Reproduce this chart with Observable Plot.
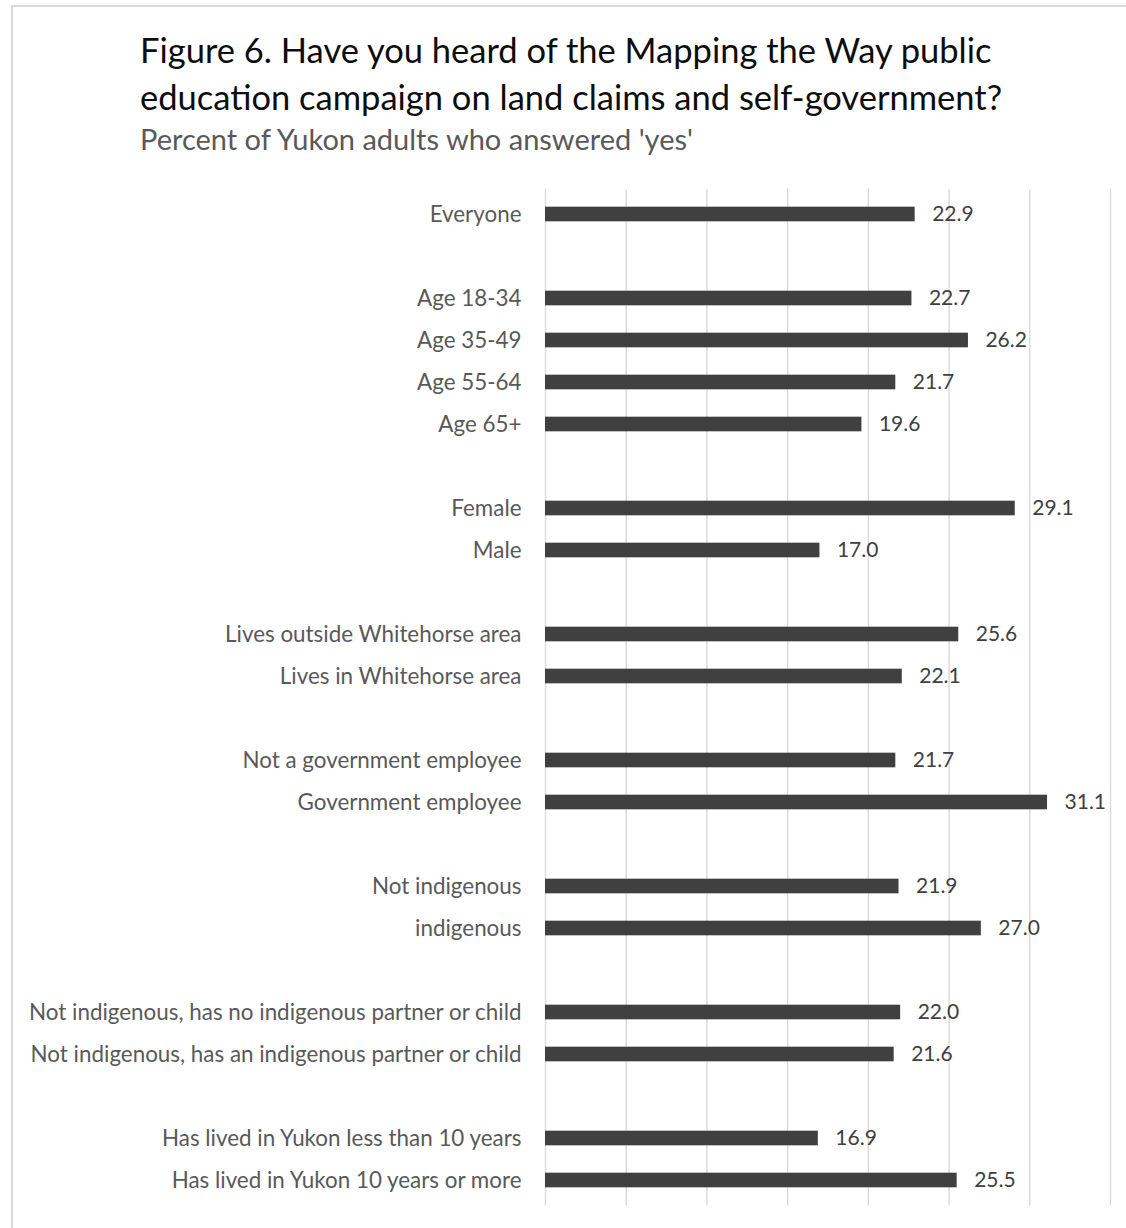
<!DOCTYPE html>
<html>
<head>
<meta charset="utf-8">
<script src="https://cdn.jsdelivr.net/npm/d3@7"></script>
<script src="https://cdn.jsdelivr.net/npm/@observablehq/plot@0.6"></script>
<style>
  html, body { margin: 0; padding: 0; background: #fff; overflow: hidden; }
  #wrap { position: relative; width: 1126px; height: 1228px; font-family: Lato, "Open Sans", sans-serif; }
  #frame { position: absolute; left: 11px; top: 5px; width: 1300px; height: 1400px; border-top: 2px solid #d9d9d9; border-left: 2px solid #d9d9d9; box-sizing: border-box; }
  .t { position: absolute; left: 140px; white-space: nowrap; }
  #title1, #title2 { font-size: 34.5px; color: #0d0d0d; line-height: 42px; }
  #sub { font-size: 29px; color: #595959; line-height: 34px; }
  #chart { position: absolute; left: 0; top: 170px; line-height: 0; }
</style>
</head>
<body>
<div id="wrap">
  <div id="frame"></div>
  <div class="t" id="title1" style="top:29px">Figure 6. Have you heard of the Mapping the Way public</div>
  <div class="t" id="title2" style="top:76px">education campaign on land claims and self-government?</div>
  <div class="t" id="sub" style="top:122px">Percent of Yukon adults who answered 'yes'</div>
  <div id="chart"></div>
</div>
<script>
const categories = [
  "Everyone",
  "Age 18-34", "Age 35-49", "Age 55-64", "Age 65+",
  "Female", "Male",
  "Lives outside Whitehorse area", "Lives in Whitehorse area",
  "Not a government employee", "Government employee",
  "Not indigenous", "indigenous",
  "Not indigenous, has no indigenous partner or child", "Not indigenous, has an indigenous partner or child",
  "Has lived in Yukon less than 10 years", "Has lived in Yukon 10 years or more"
];
const values = [22.9, 22.7, 26.2, 21.7, 19.6, 29.1, 17.0, 25.6, 22.1, 21.7, 31.1, 21.9, 27.0, 22.0, 21.6, 16.9, 25.5];
const groups = [1, 2, 2, 2, 2, 3, 3, 4, 4, 5, 5, 6, 6, 7, 7, 8, 8];
const xTicks = [0, 5, 10, 15, 20, 25, 30, 35];

const data = categories.map((c, i) => ({category: c, value: values[i], group: groups[i]}));
const domain = [];
data.forEach((d, i) => {
  if (i > 0 && groups[i] !== groups[i - 1]) domain.push("gap-" + groups[i]);
  domain.push(d.category);
});

const plotTop = 170;
const bandTop = 189, bandBottom = 1205.5;
const rowStep = (bandBottom - bandTop) / domain.length;
const inset = (rowStep - 15) / 2;
const H = 1228 - plotTop;

const chart = Plot.plot({
  width: 1126,
  height: H,
  marginLeft: 545,
  marginRight: 16,
  marginTop: bandTop - plotTop,
  marginBottom: H - (bandBottom - plotTop),
  style: {fontFamily: "Lato, 'Open Sans', sans-serif", fontSize: "22px", color: "#595959", background: "transparent"},
  x: {domain: [0, 35], axis: null},
  y: {domain, padding: 0, axis: null},
  marks: [
    Plot.ruleX(xTicks, {stroke: "#d9d9d9", strokeWidth: 1.4}),
    Plot.barX(data, {x: "value", y: "category", fill: "#404040", insetTop: inset, insetBottom: inset}),
    Plot.text(data, {x: "value", y: "category", text: d => d.value.toFixed(1), textAnchor: "start", dx: 17, fill: "#404040", fontSize: 21}),
    Plot.axisY({tickSize: 0, tickPadding: 24, fontSize: 22.4, fill: "#595959", label: null, tickFormat: d => d.startsWith("gap-") ? "" : d})
  ]
});
document.getElementById("chart").appendChild(chart);
</script>
</body>
</html>
